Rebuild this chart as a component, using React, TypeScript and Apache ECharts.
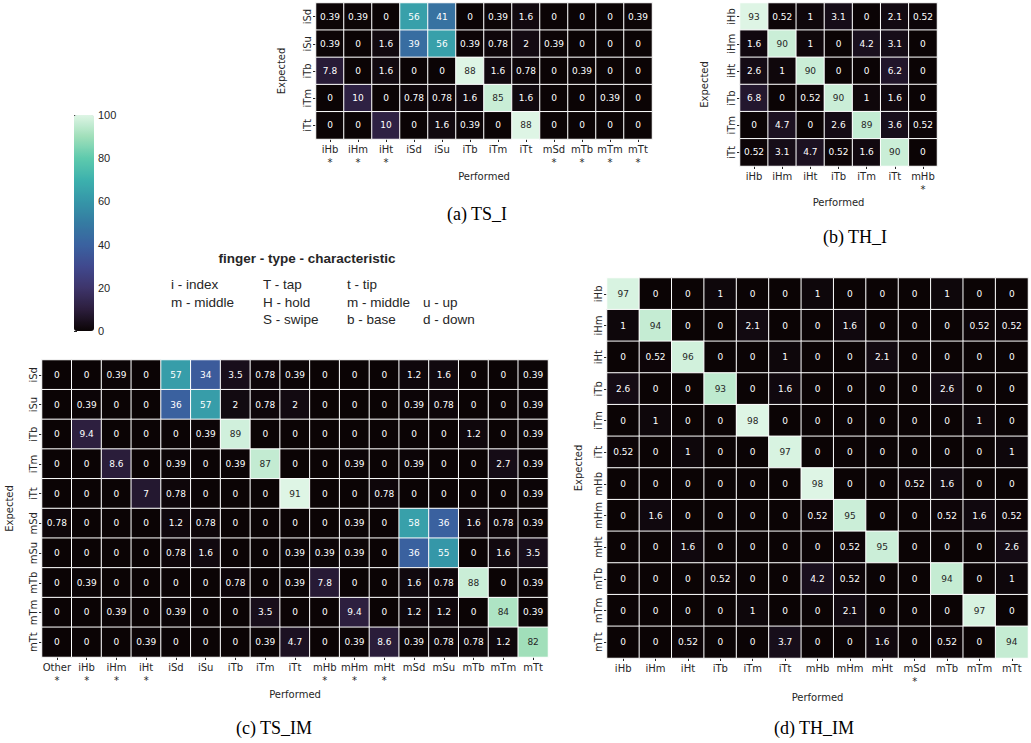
import React, { useEffect, useRef } from 'react';
import * as echarts from 'echarts';

// ---------- colormap (mako) ----------
const MAKO = ['#0B0405', '#2C1E3D', '#3E356B', '#40498E', '#3A62A0', '#357BA2', '#3596A8', '#3DB1AD', '#5ECAAD', '#A0DFBA', '#DEF5E5'];

// ---------- (a) TS_I ----------
const aX = ['iHb', 'iHm', 'iHt', 'iSd', 'iSu', 'iTb', 'iTm', 'iTt', 'mSd', 'mTb', 'mTm', 'mTt'];
const aStar = [1, 1, 1, 0, 0, 0, 0, 0, 1, 1, 1, 1];
const aY = ['iSd', 'iSu', 'iTb', 'iTm', 'iTt'];
const aVals = [
  [0.39, 0.39, 0, 56, 41, 0, 0.39, 1.6, 0, 0, 0, 0.39],
  [0.39, 0, 1.6, 39, 56, 0.39, 0.78, 2, 0.39, 0, 0, 0],
  [7.8, 0, 1.6, 0, 0, 88, 1.6, 0.78, 0, 0.39, 0, 0],
  [0, 10, 0, 0.78, 0.78, 1.6, 85, 1.6, 0, 0, 0.39, 0],
  [0, 0, 10, 0, 1.6, 0.39, 0, 88, 0, 0, 0, 0],
];

// ---------- (b) TH_I ----------
const bX = ['iHb', 'iHm', 'iHt', 'iTb', 'iTm', 'iTt', 'mHb'];
const bStar = [0, 0, 0, 0, 0, 0, 1];
const bY = ['iHb', 'iHm', 'iHt', 'iTb', 'iTm', 'iTt'];
const bVals = [
  [93, 0.52, 1, 3.1, 0, 2.1, 0.52],
  [1.6, 90, 1, 0, 4.2, 3.1, 0],
  [2.6, 1, 90, 0, 0, 6.2, 0],
  [6.8, 0, 0.52, 90, 1, 1.6, 0],
  [0, 4.7, 0, 2.6, 89, 3.6, 0.52],
  [0.52, 3.1, 4.7, 0.52, 1.6, 90, 0],
];

// ---------- (c) TS_IM ----------
const cX = ['Other', 'iHb', 'iHm', 'iHt', 'iSd', 'iSu', 'iTb', 'iTm', 'iTt', 'mHb', 'mHm', 'mHt', 'mSd', 'mSu', 'mTb', 'mTm', 'mTt'];
const cStar = [1, 1, 1, 1, 0, 0, 0, 0, 0, 1, 1, 1, 0, 0, 0, 0, 0];
const cY = ['iSd', 'iSu', 'iTb', 'iTm', 'iTt', 'mSd', 'mSu', 'mTb', 'mTm', 'mTt'];
const cVals = [
  [0, 0, 0.39, 0, 57, 34, 3.5, 0.78, 0.39, 0, 0, 0, 1.2, 1.6, 0, 0, 0.39],
  [0, 0.39, 0, 0, 36, 57, 2, 0.78, 2, 0, 0, 0, 0.39, 0.78, 0, 0, 0.39],
  [0, 9.4, 0, 0, 0, 0.39, 89, 0, 0, 0, 0, 0, 0, 0, 1.2, 0, 0.39],
  [0, 0, 8.6, 0, 0.39, 0, 0.39, 87, 0, 0, 0.39, 0, 0.39, 0, 0, 2.7, 0.39],
  [0, 0, 0, 7, 0.78, 0, 0, 0, 91, 0, 0, 0.78, 0, 0, 0, 0, 0.39],
  [0.78, 0, 0, 0, 1.2, 0.78, 0, 0, 0, 0, 0.39, 0, 58, 36, 1.6, 0.78, 0.39],
  [0, 0, 0, 0, 0.78, 1.6, 0, 0, 0.39, 0.39, 0.39, 0, 36, 55, 0, 1.6, 3.5],
  [0, 0.39, 0, 0, 0, 0, 0.78, 0, 0.39, 7.8, 0, 0, 1.6, 0.78, 88, 0, 0.39],
  [0, 0, 0.39, 0, 0.39, 0, 0, 3.5, 0, 0, 9.4, 0, 1.2, 1.2, 0, 84, 0.39],
  [0, 0, 0, 0.39, 0, 0, 0, 0.39, 4.7, 0, 0.39, 8.6, 0.39, 0.78, 0.78, 1.2, 82],
];

// ---------- (d) TH_IM ----------
const dX = ['iHb', 'iHm', 'iHt', 'iTb', 'iTm', 'iTt', 'mHb', 'mHm', 'mHt', 'mSd', 'mTb', 'mTm', 'mTt'];
const dStar = [0, 0, 0, 0, 0, 0, 0, 0, 0, 1, 0, 0, 0];
const dY = ['iHb', 'iHm', 'iHt', 'iTb', 'iTm', 'iTt', 'mHb', 'mHm', 'mHt', 'mTb', 'mTm', 'mTt'];
const dVals = [
  [97, 0, 0, 1, 0, 0, 1, 0, 0, 0, 1, 0, 0],
  [1, 94, 0, 0, 2.1, 0, 0, 1.6, 0, 0, 0, 0.52, 0.52],
  [0, 0.52, 96, 0, 0, 1, 0, 0, 2.1, 0, 0, 0, 0],
  [2.6, 0, 0, 93, 0, 1.6, 0, 0, 0, 0, 2.6, 0, 0],
  [0, 1, 0, 0, 98, 0, 0, 0, 0, 0, 0, 1, 0],
  [0.52, 0, 1, 0, 0, 97, 0, 0, 0, 0, 0, 0, 1],
  [0, 0, 0, 0, 0, 0, 98, 0, 0, 0.52, 1.6, 0, 0],
  [0, 1.6, 0, 0, 0, 0, 0.52, 95, 0, 0, 0.52, 1.6, 0.52],
  [0, 0, 1.6, 0, 0, 0, 0, 0.52, 95, 0, 0, 0, 2.6],
  [0, 0, 0, 0.52, 0, 0, 4.2, 0.52, 0, 0, 94, 0, 1],
  [0, 0, 0, 0, 1, 0, 0, 2.1, 0, 0, 0, 97, 0],
  [0, 0, 0.52, 0, 0, 3.7, 0, 0, 1.6, 0, 0.52, 0, 94],
];

// colorbar ticks
const cbarMin = 0;
const cbarMax = 100;
const cbarInterval = 20;

// legend texts
const legendTitle = 'finger - type - characteristic';
const legendCols = [
  ['i - index', 'm - middle'],
  ['T - tap', 'H - hold', 'S - swipe'],
  ['t - tip', 'm - middle', 'b - base'],
  ['', 'u - up', 'd - down'],
];
const captions = ['(a) TS_I', '(b) TH_I', '(c) TS_IM', '(d) TH_IM'];

// ---------- helpers ----------
function hexToRgb(h: string) {
  const n = parseInt(h.slice(1), 16);
  return [(n >> 16) & 255, (n >> 8) & 255, n & 255];
}
function makoAt(t: number) {
  t = Math.max(0, Math.min(1, t));
  const s = t * (MAKO.length - 1);
  const i = Math.min(Math.floor(s), MAKO.length - 2);
  const f = s - i;
  const a = hexToRgb(MAKO[i]);
  const b = hexToRgb(MAKO[i + 1]);
  return a.map((c, k) => c + (b[k] - c) * f);
}
function lum(rgb: number[]) {
  const l = rgb.map((c) => {
    c /= 255;
    return c <= 0.03928 ? c / 12.92 : Math.pow((c + 0.055) / 1.055, 2.4);
  });
  return 0.2126 * l[0] + 0.7152 * l[1] + 0.0722 * l[2];
}
function maxOf(vals: number[][]) {
  return Math.max(...vals.map((r) => Math.max(...r)));
}
function cells(vals: number[][]) {
  const mx = maxOf(vals);
  const out: any[] = [];
  vals.forEach((row, y) =>
    row.forEach((v, x) => {
      out.push({
        value: [x, y, v],
        label: { color: lum(makoAt(v / mx)) > 0.408 ? '#262626' : '#ffffff' },
      });
    })
  );
  return out;
}

const TXT = '#262626';
const FONT = '"DejaVu Sans", sans-serif';

function xAxisFor(idx: number, cats: string[], stars: number[], nameGap: number) {
  return {
    type: 'category',
    gridIndex: idx,
    data: cats,
    position: 'bottom',
    name: 'Performed',
    nameLocation: 'middle',
    nameGap,
    nameTextStyle: { fontSize: 10, color: TXT, fontFamily: FONT },
    axisLine: { show: false },
    axisTick: { show: true, length: 3, alignWithLabel: true, lineStyle: { color: TXT } },
    axisLabel: {
      fontSize: 10,
      color: TXT,
      fontFamily: FONT,
      margin: 4,
      lineHeight: 13,
      interval: 0,
      formatter: (v: string, i: number) => (stars[i] ? v + '\n*' : v),
    },
    splitLine: { show: false },
  };
}
function yAxisFor(idx: number, cats: string[], nameGap: number) {
  return {
    type: 'category',
    gridIndex: idx,
    data: cats,
    inverse: true,
    name: 'Expected',
    nameLocation: 'middle',
    nameGap,
    nameTextStyle: { fontSize: 10, color: TXT, fontFamily: FONT },
    axisLine: { show: false },
    axisTick: { show: true, length: 3, alignWithLabel: true, lineStyle: { color: TXT } },
    axisLabel: { fontSize: 10, color: TXT, fontFamily: FONT, rotate: 90, margin: 4, interval: 0 },
    splitLine: { show: false },
  };
}
function heat(idx: number, vals: number[][]) {
  return {
    type: 'heatmap',
    xAxisIndex: idx,
    yAxisIndex: idx,
    data: cells(vals),
    label: { show: true, fontSize: 9, fontFamily: FONT, formatter: (p: any) => String(p.value[2]) },
    itemStyle: { borderColor: '#ffffff', borderWidth: 1 },
    emphasis: { disabled: true },
  };
}

export default function App() {
  const ref = useRef<HTMLDivElement>(null);
  useEffect(() => {
    if (!ref.current) return;
    const chart = echarts.init(ref.current, null, { renderer: 'svg' });

    const grids = [
      { left: 316, top: 3, width: 336, height: 136 },
      { left: 740, top: 3, width: 197, height: 163 },
      { left: 42, top: 360, width: 506, height: 297 },
      { left: 607, top: 278, width: 421, height: 380 },
      { left: 74, top: 115, width: 20, height: 216 },
    ];

    const graphic: any[] = [];
    graphic.push({
      type: 'text',
      x: 307,
      y: 258,
      style: { text: legendTitle, font: 'bold 13.5px "Liberation Sans", Arial', fill: TXT, align: 'center', verticalAlign: 'middle' },
    });
    const colX = [171, 263, 347, 423];
    const rowY = [284, 302, 319];
    legendCols.forEach((col, ci) =>
      col.forEach((t, ri) => {
        if (!t) return;
        graphic.push({
          type: 'text',
          x: colX[ci],
          y: rowY[ri],
          style: { text: t, font: '13.5px "Liberation Sans", Arial', fill: TXT, align: 'left', verticalAlign: 'middle' },
        });
      })
    );
    const capPos = [
      [477, 214],
      [855, 237],
      [274, 728],
      [814, 728],
    ];
    captions.forEach((t, i) =>
      graphic.push({
        type: 'text',
        x: capPos[i][0],
        y: capPos[i][1],
        style: { text: t, font: '18px "Liberation Serif", "Times New Roman", serif', fill: '#000', align: 'center', verticalAlign: 'middle' },
      })
    );

    const option: any = {
      animation: false,
      textStyle: { fontFamily: FONT },
      grid: grids,
      xAxis: [
        xAxisFor(0, aX, aStar, 32),
        xAxisFor(1, bX, bStar, 31),
        xAxisFor(2, cX, cStar, 32),
        xAxisFor(3, dX, dStar, 31),
        { type: 'value', gridIndex: 4, show: false, min: 0, max: 1 },
      ],
      yAxis: [
        yAxisFor(0, aY, 30),
        yAxisFor(1, bY, 31),
        yAxisFor(2, cY, 28),
        yAxisFor(3, dY, 24),
        {
          type: 'value',
          gridIndex: 4,
          min: cbarMin,
          max: cbarMax,
          interval: cbarInterval,
          position: 'right',
          axisLine: { show: false },
          axisTick: { show: true, length: 3, lineStyle: { color: TXT } },
          axisLabel: { fontSize: 11, color: TXT, fontFamily: '"Liberation Sans", Arial', margin: 4 },
          splitLine: { show: false },
        },
      ],
      visualMap: [
        ...[aVals, bVals, cVals, dVals].map((v, i) => ({
          type: 'continuous',
          show: false,
          min: 0,
          max: maxOf(v),
          dimension: 2,
          seriesIndex: i,
          inRange: { color: MAKO },
        })),
        {
          type: 'continuous',
          show: true,
          min: cbarMin,
          max: cbarMax,
          calculable: false,
          seriesIndex: 4,
          left: 74,
          top: 115,
          padding: 0,
          itemWidth: 20,
          itemHeight: 216,
          text: ['', ''],
          showLabel: false,
          inRange: { color: MAKO },
        },
      ],
      series: [
        heat(0, aVals),
        heat(1, bVals),
        heat(2, cVals),
        heat(3, dVals),
        { type: 'scatter', xAxisIndex: 4, yAxisIndex: 4, data: [], silent: true },
      ],
      graphic,
    };
    chart.setOption(option);
    return () => chart.dispose();
  }, []);
  return <div ref={ref} style={{ position: 'fixed', left: 0, top: 0, width: 1031, height: 743, background: '#fff' }} />;
}
